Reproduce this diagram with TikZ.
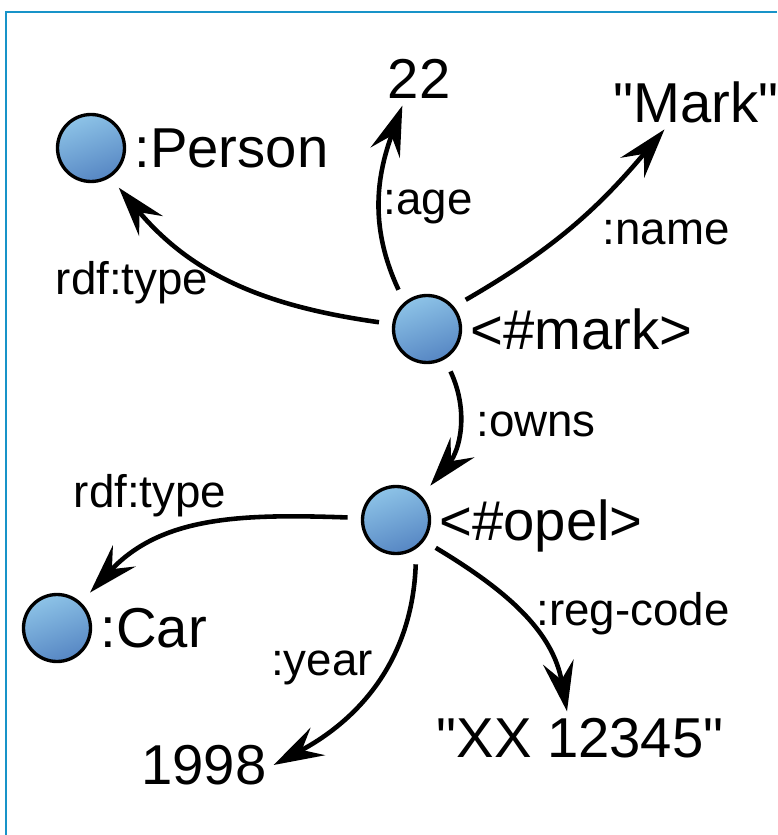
\documentclass[tikz,border=0pt]{standalone}
\usepackage{fontspec}
\setmainfont{Liberation Sans}
\usetikzlibrary{arrows.meta,positioning}
\definecolor{restop}{RGB}{141,195,231}
\definecolor{resbot}{RGB}{86,134,195}
\definecolor{framecol}{RGB}{24,147,200}
\newcommand{\resunit}{0.67cm}
\newcommand{\qt}{\textquotedbl}
\tikzset{
    ressty/.style={circle,draw,line width=0.95pt,minimum size=\resunit,inner sep=0pt,outer sep=0.15cm,
                   top color=restop,bottom color=resbot,shading angle=20},
    bigsty/.style={font=\fontsize{16}{19}\selectfont,inner sep=2pt,outer sep=0pt,text depth=0pt},
    lblsty/.style={font=\fontsize{13}{15}\selectfont,inner sep=0pt,anchor=base},
    relsty/.style={-{Stealth[length=0.5cm,width=0.31cm,inset=0.18cm]},line width=1.3pt},
    framesty/.style={draw=framecol,line width=0.6pt},
}

\begin{document}
\begin{tikzpicture}
  \useasboundingbox (0,0) rectangle (7.77,-8.35);
  \draw[framesty] (0.06,-8.35) -- (0.06,-0.12) -- (7.77,-0.12);

  % resources
  \node[ressty] (person) at (0.91,-1.48) {};
  \node[ressty] (mark)   at (4.27,-3.29) {};
  \node[ressty] (opel)   at (3.96,-5.20) {};
  \node[ressty] (car)    at (0.57,-6.28) {};
  \node[bigsty, right=-0.12cm of person] (persontxt) {:Person};
  \node[bigsty, right=-0.12cm of mark]   (marktxt)   {<\#mark>};
  \node[bigsty, right=-0.12cm of opel]   (opeltxt)   {<\#opel>};
  \node[bigsty, right=-0.12cm of car]    (cartxt)    {:Car};

  % literals
  \node[bigsty] (agev)   at (4.19,-0.79) {22};
  \node[bigsty] (namev)  at (6.96,-1.02) {\qt Mark\qt};
  \node[bigsty] (yearv)  at (2.04,-7.65) {1998};
  \node[bigsty] (platev) at (5.80,-7.38) {\qt XX 12345\qt};

  % properties
  \draw[relsty] (mark.172) to[out=172,in=-50]  (person.-55);
  \draw[relsty] (mark.126) to[out=115,in=-110] (agev.-122);
  \draw[relsty] (mark.37)  to[out=30,in=-130]  (namev.-139);
  \draw[relsty] (mark.-61) to[out=-65,in=50]   (opel.45);
  \draw[relsty] (opel.177) to[out=178,in=47]   (car.47);
  \draw[relsty] (opel.-66) to[out=-92,in=28]   (yearv.east);
  \draw[relsty] (opel.-35) to[out=-31,in=100]  (platev.116);

  \node[lblsty] (ltype)  at (1.32,-2.95) {rdf:type};
  \node[lblsty] (lage)   at (4.28,-2.15) {:age};
  \node[lblsty] (lname)  at (6.66,-2.45) {:name};
  \node[lblsty] (lowns)  at (5.36,-4.37) {:owns};
  \node[lblsty] (ltypeb) at (1.50,-5.07) {rdf:type};
  \node[lblsty] (lyear)  at (3.22,-6.75) {:year};
  \node[lblsty] (lreg)   at (6.33,-6.25) {:reg-code};
\end{tikzpicture}
\end{document}
